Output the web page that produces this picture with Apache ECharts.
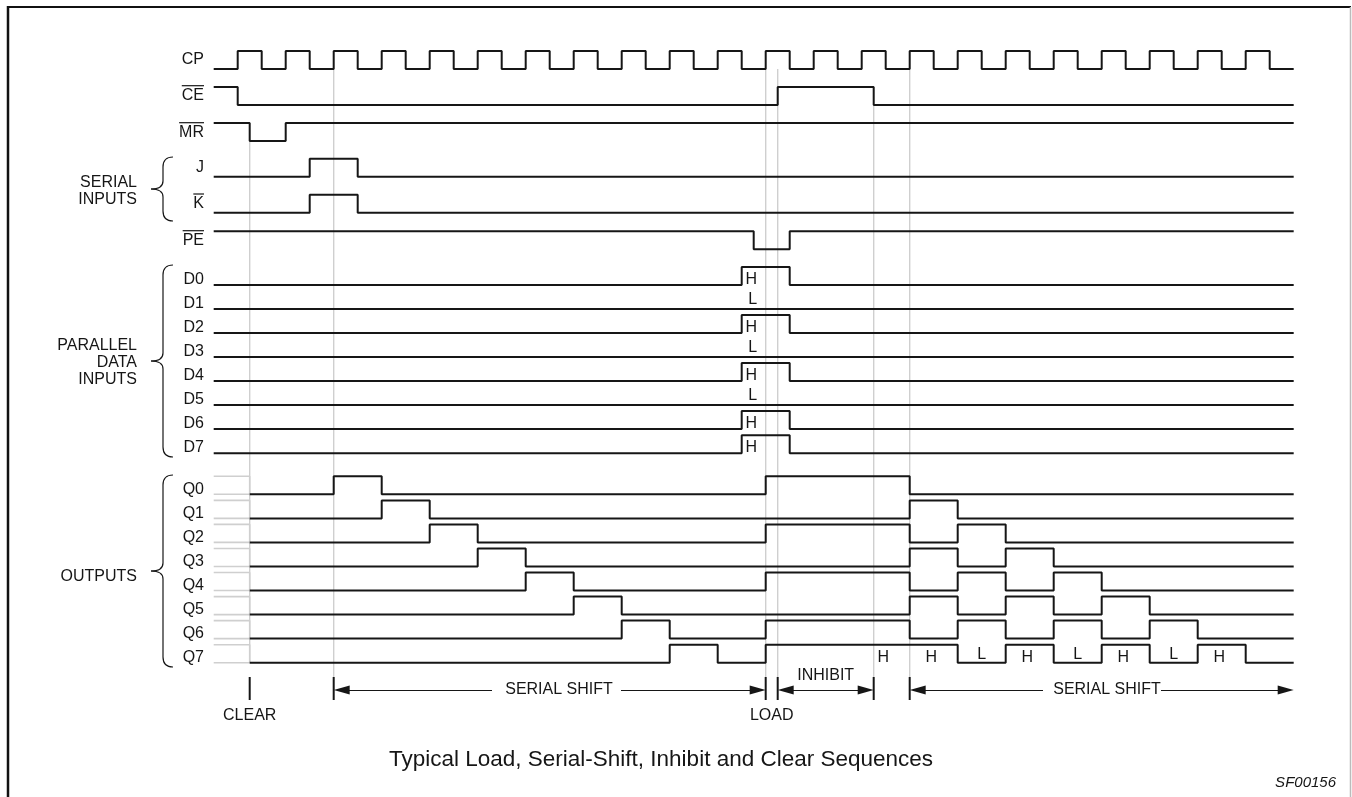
<!DOCTYPE html>
<html><head><meta charset="utf-8">
<script src="https://cdn.jsdelivr.net/npm/echarts@6/dist/echarts.min.js"></script>
<style>html,body{margin:0;padding:0;background:#fff}#c{width:1352px;height:797px}</style>
</head><body><div id="c"></div>
<script>
// ---------- DATA ----------
const signalNames = ['CP','CE','MR','J','K','PE','D0','D1','D2','D3','D4','D5','D6','D7','Q0','Q1','Q2','Q3','Q4','Q5','Q6','Q7'];
const overbarNames = ['CE','MR','K','PE'];
// waveforms: [time (half clock periods), level 0/1]; level holds from that time on
const cpWave = [[0,0],[1,1],[2,0],[3,1],[4,0],[5,1],[6,0],[7,1],[8,0],[9,1],[10,0],[11,1],[12,0],[13,1],[14,0],[15,1],[16,0],[17,1],[18,0],[19,1],[20,0],[21,1],[22,0],[23,1],[24,0],[25,1],[26,0],[27,1],[28,0],[29,1],[30,0],[31,1],[32,0],[33,1],[34,0],[35,1],[36,0],[37,1],[38,0],[39,1],[40,0],[41,1],[42,0],[43,1],[44,0],[45,0]];
const ceWave = [[0,1],[1,0],[23.5,1],[27.5,0],[45,0]];
const mrWave = [[0,1],[1.5,0],[3,1],[45,1]];
const jWave  = [[0,0],[4,1],[6,0],[45,0]];
const kWave  = [[0,0],[4,1],[6,0],[45,0]];
const peWave = [[0,1],[22.5,0],[24,1],[45,1]];
const dHighWave = [[0,0],[22,1],[24,0],[45,0]];
const dLowWave  = [[0,0],[45,0]];
const dValues = ['H','L','H','L','H','L','H','H'];
const q0Wave = [[1.5,0],[5,1],[7,0],[23,1],[29,0],[45,0]];
const q1Wave = [[1.5,0],[7,1],[9,0],[29,1],[31,0],[45,0]];
const q2Wave = [[1.5,0],[9,1],[11,0],[23,1],[29,0],[31,1],[33,0],[45,0]];
const q3Wave = [[1.5,0],[11,1],[13,0],[29,1],[31,0],[33,1],[35,0],[45,0]];
const q4Wave = [[1.5,0],[13,1],[15,0],[23,1],[29,0],[31,1],[33,0],[35,1],[37,0],[45,0]];
const q5Wave = [[1.5,0],[15,1],[17,0],[29,1],[31,0],[33,1],[35,0],[37,1],[39,0],[45,0]];
const q6Wave = [[1.5,0],[17,1],[19,0],[23,1],[29,0],[31,1],[33,0],[35,1],[37,0],[39,1],[41,0],[45,0]];
const q7Wave = [[1.5,0],[19,1],[21,0],[23,1],[31,0],[33,1],[35,0],[37,1],[39,0],[41,1],[43,0],[45,0]];
const q7Labels = [[27.9,'H'],[29.9,'H'],[32,'L'],[33.9,'H'],[36,'L'],[37.9,'H'],[40,'L'],[41.9,'H']];
const dLabelTime = 22.4;
const qUnknownEnd = 1.5;
// event markers (time)
const markTimes = [1.5, 5, 23, 23.5, 27.5, 29];
const phaseLabels = [[1.5,'CLEAR'],[23.25,'LOAD']];
const title = 'Typical Load, Serial-Shift, Inhibit and Clear Sequences';
const figId = 'SF00156';

// ---------- LAYOUT ----------
const X0 = 213.7, UNIT = 24, T_MAX = 45, LEVEL_H = 18;
const rowLow = [69,105,141,176.7,212.7,249.3,285,309,333,357,381,405,429,453.3,494.3,518.4,542.4,566.5,590.5,614.6,638.6,662.7];
const markTop = [141, 69, 69, 69, 105, 69];
const FONT = 'Liberation Sans, Arial, Helvetica, sans-serif';
const FS = 16;
const BLACK = '#161616', GRAY = '#cfcfcf';

const waves = [cpWave,ceWave,mrWave,jWave,kWave,peWave,
  dHighWave,dLowWave,dHighWave,dLowWave,dHighWave,dLowWave,dHighWave,dHighWave,
  q0Wave,q1Wave,q2Wave,q3Wave,q4Wave,q5Wave,q6Wave,q7Wave];

const series = [];
const pxT = (px) => px / UNIT;

// gray event lines
markTimes.forEach((t, i) => {
  series.push({type:'line', data:[[t, markTop[i]], [t, i===0 ? 663 : 677]], symbol:'none', silent:true,
    lineStyle:{color:GRAY, width:1.4}, z:1, animation:false});
  series.push({type:'line', data:[[t, 677], [t, 700]], symbol:'none', silent:true,
    lineStyle:{color:BLACK, width:2}, z:3, animation:false});
});
// unknown output state before clear
for (let i = 14; i < 22; i++) {
  const lo = rowLow[i], hi = lo - LEVEL_H;
  series.push({type:'line', data:[[0,hi],[qUnknownEnd,hi],[qUnknownEnd,lo],[0,lo]], symbol:'none', silent:true,
    lineStyle:{color:GRAY, width:1.6}, z:2, animation:false});
}
// waveforms
waves.forEach((w, i) => {
  series.push({type:'line', step:'end', symbol:'none', silent:true, animation:false, z:4,
    data: w.map(([t, l]) => [t, rowLow[i] - l * LEVEL_H]),
    lineStyle:{color:BLACK, width:2}});
});

// text labels on the waveforms
const txtData = [];
dValues.forEach((v, k) => {
  const lo = rowLow[6 + k];
  txtData.push([dLabelTime + (v === 'L' ? 0.06 : 0), v === 'H' ? lo - 5.7 : lo - 9.3, v]);
});
q7Labels.forEach(([t, v]) => txtData.push([t, v === 'H' ? rowLow[21] - 5 : rowLow[21] - 7.7, v]));
phaseLabels.forEach(([t, v]) => txtData.push([t, 716, v]));
txtData.push([25.5, 676, 'INHIBIT']);
txtData.push([pxT(559 - X0), 690, 'SERIAL SHIFT']);
txtData.push([pxT(1107 - X0), 690, 'SERIAL SHIFT']);
series.push({type:'scatter', symbolSize:0, itemStyle:{color:BLACK}, silent:true, animation:false, z:5,
  data: txtData,
  label:{show:true, position:'inside', formatter:(p)=>p.data[2], color:BLACK, opacity:1,
    textBorderWidth:0, textShadowBlur:0, fontFamily:FONT, fontSize:FS}});

// arrows
const aOff = pxT(8);
const arrowSym = [9, 16];
const Y_ARR = 690;
const seg = (t1, t2, s1, s2) => [
  {coord:[t1 + (s1 ? aOff : 0), Y_ARR], symbol: s1 ? 'triangle' : 'none', symbolSize: arrowSym},
  {coord:[t2 - (s2 ? aOff : 0), Y_ARR], symbol: s2 ? 'triangle' : 'none', symbolSize: arrowSym}
];
series.push({type:'line', data:[], silent:true, animation:false, z:5,
  markLine:{silent:true, animation:false, label:{show:false}, emphasis:{disabled:true},
    itemStyle:{color:BLACK},
    lineStyle:{color:BLACK, width:1, type:'solid'},
    data:[
      seg(5, pxT(492 - X0), true, false),
      seg(pxT(621 - X0), 23, false, true),
      seg(23.5, 27.5, true, true),
      seg(29, pxT(1043 - X0), true, false),
      seg(pxT(1161 - X0), 45, false, true)
    ]}});

// ---------- GRAPHICS (labels, braces, frame) ----------
const ctx = document.createElement('canvas').getContext('2d');
ctx.font = FS + 'px ' + FONT;
const labelY = [60,95.7,132.7,167.3,204,240.7,279.3,303.3,327.3,351.3,375.3,399.3,423.3,447.3,489.3,513.4,537.4,561.5,585.5,609.6,633.6,657.7];
const graphic = [];
const txt = (x, y, text, align, size, style) => ({type:'text', x, y, silent:true,
  style:{text, fill:BLACK, font: (style || '') + ' ' + (size || FS) + 'px ' + FONT, textAlign:align, textVerticalAlign:'middle', align, verticalAlign:'middle'}});
signalNames.forEach((n, i) => {
  graphic.push(txt(204, labelY[i], n, 'right'));
  if (overbarNames.includes(n)) {
    const w = ctx.measureText(n).width;
    graphic.push({type:'line', silent:true, shape:{x1:204 - w, y1:labelY[i] - 10, x2:204, y2:labelY[i] - 10},
      style:{stroke:BLACK, lineWidth:1.2}});
  }
});
[['SERIAL',183],['INPUTS',200],['PARALLEL',346],['DATA',363],['INPUTS',380],['OUTPUTS',577]].forEach(([t,y]) =>
  graphic.push(txt(137, y, t, 'right')));
const brace = (top, bot) => {
  const mid = (top + bot) / 2, xr = 173, xm = 163, xt = 151;
  const st = {stroke:BLACK, lineWidth:1.2, fill:null};
  return [
    {type:'bezierCurve', silent:true, shape:{x1:xr, y1:top, x2:xm, y2:top + 10, cpx1:xm, cpy1:top}, style:st},
    {type:'line', silent:true, shape:{x1:xm, y1:top + 10, x2:xm, y2:mid - 8}, style:st},
    {type:'bezierCurve', silent:true, shape:{x1:xm, y1:mid - 8, x2:xt, y2:mid, cpx1:xm, cpy1:mid}, style:st},
    {type:'bezierCurve', silent:true, shape:{x1:xt, y1:mid, x2:xm, y2:mid + 8, cpx1:xm, cpy1:mid}, style:st},
    {type:'line', silent:true, shape:{x1:xm, y1:mid + 8, x2:xm, y2:bot - 10}, style:st},
    {type:'bezierCurve', silent:true, shape:{x1:xm, y1:bot - 10, x2:xr, y2:bot, cpx1:xm, cpy1:bot}, style:st}
  ];
};
graphic.push(...brace(157, 221), ...brace(265, 457), ...brace(475, 667));
graphic.push(txt(661, 760, title, 'center', 22.5));
graphic.push(txt(1336, 783, figId, 'right', 15, 'italic'));
// frame
graphic.push({type:'line', silent:true, shape:{x1:8, y1:7, x2:1351, y2:7}, style:{stroke:'#111', lineWidth:2}});
graphic.push({type:'line', silent:true, shape:{x1:8, y1:6, x2:8, y2:797}, style:{stroke:'#111', lineWidth:2.5}});
graphic.push({type:'line', silent:true, shape:{x1:1350.5, y1:7, x2:1350.5, y2:797}, style:{stroke:'#bbb', lineWidth:1.5}});

const chart = echarts.init(document.getElementById('c'));
chart.setOption({
  animation:false,
  backgroundColor:'#fff',
  grid:{left:X0, top:0, width:T_MAX * UNIT, height:797, containLabel:false},
  xAxis:{type:'value', min:0, max:T_MAX, show:false},
  yAxis:{type:'value', min:0, max:797, inverse:true, show:false},
  series,
  graphic
});
</script></body></html>
